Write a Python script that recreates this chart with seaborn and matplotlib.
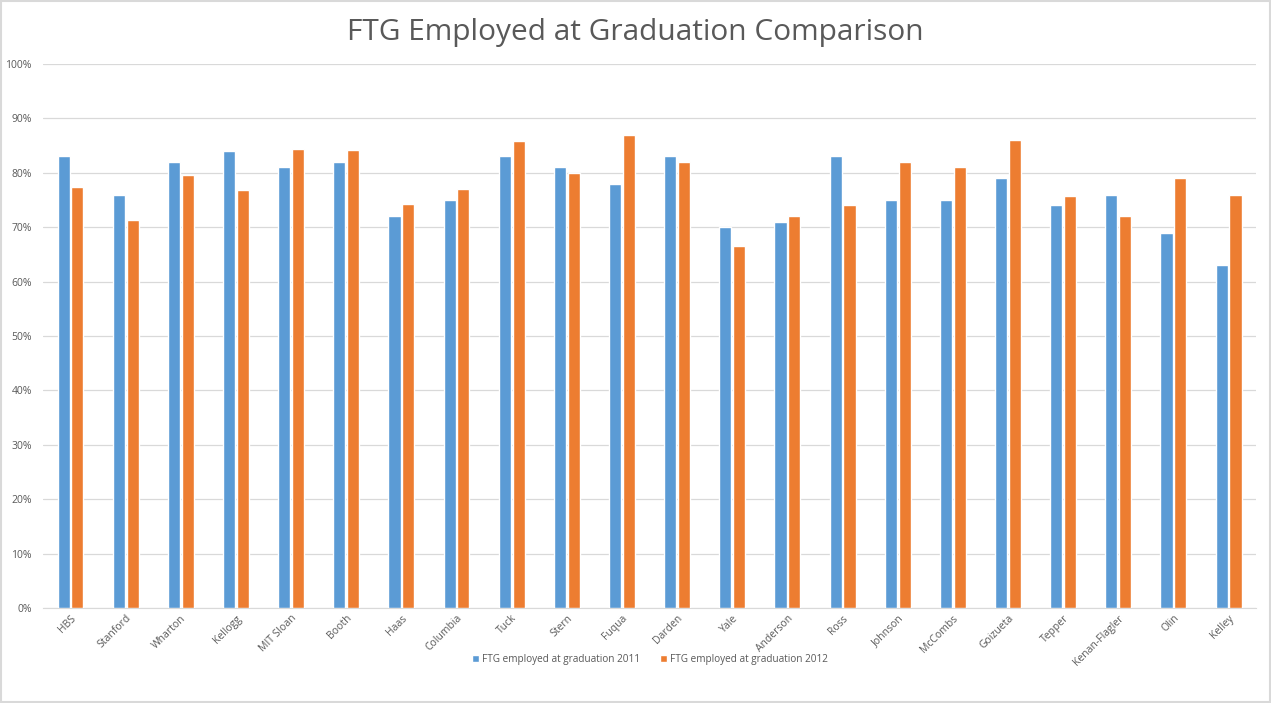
import pandas as pd
import matplotlib
matplotlib.use("Agg")
import matplotlib.pyplot as plt
import seaborn as sns
from matplotlib.ticker import PercentFormatter
from matplotlib.patches import Rectangle

# data (percent)
schools = ["HBS", "Stanford", "Wharton", "Kellogg", "MIT Sloan", "Booth", "Haas",
           "Columbia", "Tuck", "Stern", "Fuqua", "Darden", "Yale", "Anderson",
           "Ross", "Johnson", "McCombs", "Goizueta", "Tepper", "Kenan-Flagler",
           "Olin", "Kelley"]
employed_2011 = [83, 76, 82, 84, 81, 82, 72, 75, 83, 81, 78, 83, 70, 71, 83, 75, 75, 79, 74, 76, 69, 63]
employed_2012 = [77.3, 71.3, 79.6, 76.8, 84.4, 84.1, 74.3, 77.0, 85.8, 80.0, 87.0, 82.0, 66.5, 72.0,
                 74.0, 82.0, 81.0, 86.0, 75.7, 72.0, 79.0, 76.0]
series_names = ["FTG employed at graduation 2011", "FTG employed at graduation 2012"]

df = pd.DataFrame({"School": schools * 2,
                   "Value": employed_2011 + employed_2012,
                   "Series": [series_names[0]] * len(schools) + [series_names[1]] * len(schools)})

sns.set_style("white")
plt.rcParams["font.family"] = ["Open Sans", "DejaVu Sans"]

txt = "#595959"
fig = plt.figure(figsize=(12.71, 7.03), dpi=100)
ax = fig.add_axes([0.0338, 0.1351, 0.9545, 0.7739])

sns.barplot(data=df, x="School", y="Value", hue="Series", ax=ax,
            palette=["#5B9BD5", "#ED7D31"], width=0.5, gap=0.12,
            saturation=1, errorbar=None, zorder=3)

ax.set_ylim(0, 100)
ax.set_yticks(range(0, 101, 10))
ax.yaxis.set_major_formatter(PercentFormatter(decimals=0))
ax.grid(axis="y", color="#d9d9d9", linewidth=0.9, zorder=0)
ax.set_xlim(-0.5, len(schools) - 0.5)
for s in ["top", "right", "left"]:
    ax.spines[s].set_visible(False)
ax.spines["bottom"].set_color("#d9d9d9")
ax.tick_params(axis="both", length=0, labelsize=7.5, labelcolor=txt)
ax.tick_params(axis="y", pad=8)
plt.setp(ax.get_xticklabels(), rotation=45, ha="right", rotation_mode="anchor")
ax.set_xlabel("")
ax.set_ylabel("")

ax.legend(loc="upper center", bbox_to_anchor=(0.5, -0.068), ncol=2, frameon=False,
          fontsize=7.2, labelcolor=txt, handlelength=0.7, handleheight=0.7,
          handletextpad=0.3, columnspacing=2.0)

fig.text(0.5, 0.954, "FTG Employed at Graduation Comparison", ha="center", va="center",
         fontsize=21.5, color=txt)

fig.patches.append(Rectangle((0.001, 0.001), 0.998, 0.998, transform=fig.transFigure,
                             fill=False, edgecolor="#d9d9d9", linewidth=1.5))

fig.savefig("out.png", dpi=100)
